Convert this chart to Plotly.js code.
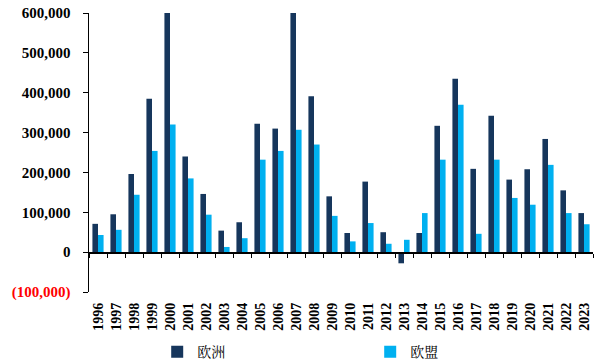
<!DOCTYPE html>
<html>
<head>
<meta charset="utf-8">
<script src="https://cdn.plot.ly/plotly-3.0.1.min.js"></script>
<style>html,body{margin:0;padding:0;background:#fff;}#chart{width:600px;height:363px;}</style>
</head>
<body>
<div id="chart"></div>
<script>
const years = ['1996','1997','1998','1999','2000','2001','2002','2003','2004','2005','2006','2007','2008','2009','2010','2011','2012','2013','2014','2015','2016','2017','2018','2019','2020','2021','2022','2023'];
const europe = [71000,95000,196000,385000,600000,240000,146000,54000,75000,322000,310000,600000,391000,140000,48000,177000,50000,-28000,48000,317000,435000,209000,342000,182000,208000,284000,155000,98000];
const eu = [43000,56000,144000,254000,320000,185000,94000,13000,35000,232000,254000,307000,270000,91000,27000,73000,21000,31000,98000,232000,370000,46000,232000,136000,119000,219000,98000,70000];
const yTickVals = [-100000,0,100000,200000,300000,400000,500000,600000];
const yTickText = ['<span style="color:#FF0000">(100,000)</span>','0','100,000','200,000','300,000','400,000','500,000','600,000'];
const seriesNames = ['欧洲','欧盟'];
const colors = ['#16365C','#00B0F0'];

const traces = [
  {type:'bar', name:seriesNames[0], x:years, y:europe, marker:{color:colors[0]}, xaxis:'x', yaxis:'y'},
  {type:'bar', name:seriesNames[1], x:years, y:eu, marker:{color:colors[1]}, xaxis:'x', yaxis:'y'}
];

const layout = {
  width:600, height:363,
  margin:{l:89, r:7, t:13, b:71, autoexpand:false},
  paper_bgcolor:'#fff', plot_bgcolor:'#fff',
  barmode:'group', bargap:0.38, bargroupgap:0,
  font:{family:'"Liberation Serif", "Times New Roman", serif', color:'#000'},
  showlegend:true,
  legend:{orientation:'h', xref:'container', yref:'container', x:0.262, xanchor:'left', y:0.03, yanchor:'middle',
    entrywidth:168, entrywidthmode:'pixels', itemwidth:30, tracegroupgap:0,
    font:{family:'"Noto Serif CJK SC","Noto Sans CJK SC", serif', size:14, color:'#000'}},
  xaxis:{type:'category', showline:false, showgrid:false, zeroline:false, ticks:'',
    tickangle:-90, tickfont:{size:14, family:'"Liberation Serif", serif', weight:'bold'},
    anchor:'free', position:0, side:'bottom', automargin:false, ticklabelstandoff:7},
  xaxis2:{type:'category', overlaying:'x', matches:'x', anchor:'free', position:1/7,
    showline:true, linecolor:'#000', linewidth:1.5, ticks:'outside', ticklen:4, tickcolor:'#000',
    tickson:'boundaries', showticklabels:false, showgrid:false, zeroline:false, automargin:false},
  yaxis:{range:[-100000,600000], tickvals:yTickVals, ticktext:yTickText, automargin:false,
    showline:true, linecolor:'#000', linewidth:1.5, ticks:'outside', ticklen:5, tickcolor:'#000',
    showgrid:false, zeroline:false, ticklabelstandoff:9,
    tickfont:{size:15, family:'"Liberation Serif", serif', weight:'bold'}}
};

Plotly.newPlot('chart', traces.concat([{type:'bar', x:years, y:years.map(()=>null), xaxis:'x2', yaxis:'y', showlegend:false, hoverinfo:'skip'}]), layout, {displayModeBar:false, staticPlot:true});
</script>
</body>
</html>
